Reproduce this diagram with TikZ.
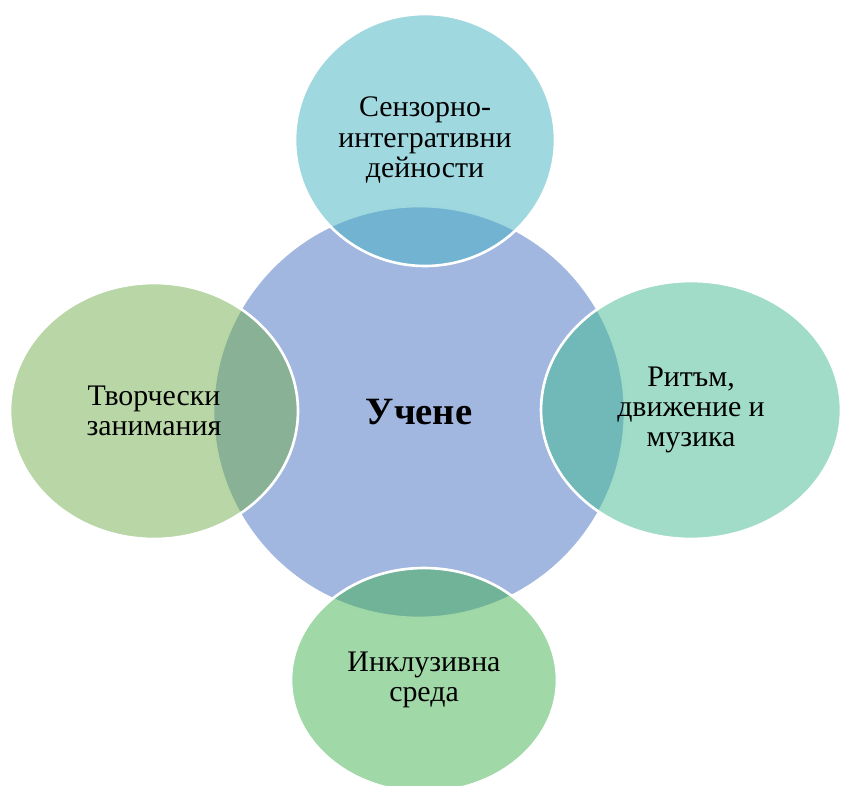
\documentclass[tikz,border=0pt]{standalone}
\usepackage{fontspec}
\setmainfont{Liberation Serif}
\usetikzlibrary{shapes.geometric}
\definecolor{hubblue}{RGB}{162,183,224}
\definecolor{sensefill}{RGB}{65,177,193}
\definecolor{rhythmfill}{RGB}{65,185,145}
\definecolor{inclfill}{RGB}{65,177,81}
\definecolor{creafill}{RGB}{113,173,77}
\tikzset{
  hub/.style={circle, fill=hubblue, draw=white, line width=1.5pt, minimum size=8.24cm,
    inner sep=0pt, font=\bfseries\fontsize{22}{24}\selectfont},
  petal/.style={ellipse, draw=white, line width=1.5pt, fill opacity=0.5, text opacity=1,
    inner sep=0pt, align=center, font=\fontsize{17}{17.1}\selectfont}
}
\begin{document}
\begin{tikzpicture}[x=0.02cm,y=-0.02cm]
      \clip (0,0) rectangle (841,785);
      \draw
        (419,412) node[hub] (hub){Учене}
        (425,140) node[petal, fill=sensefill, minimum width=5.2cm, minimum height=5.04cm] (sense){Сензорно-\\интегративни\\дейности}
        (691,410) node[petal, fill=rhythmfill, minimum width=6.0cm, minimum height=5.16cm] (rhythm){Ритъм,\\движение и\\музика}
        (424,680) node[petal, fill=inclfill, minimum width=5.32cm, minimum height=4.48cm] (incl){Инклузивна\\среда}
        (154,411) node[petal, fill=creafill, minimum width=5.76cm, minimum height=5.12cm] (crea){Творчески\\занимания};
    \end{tikzpicture}
\end{document}
